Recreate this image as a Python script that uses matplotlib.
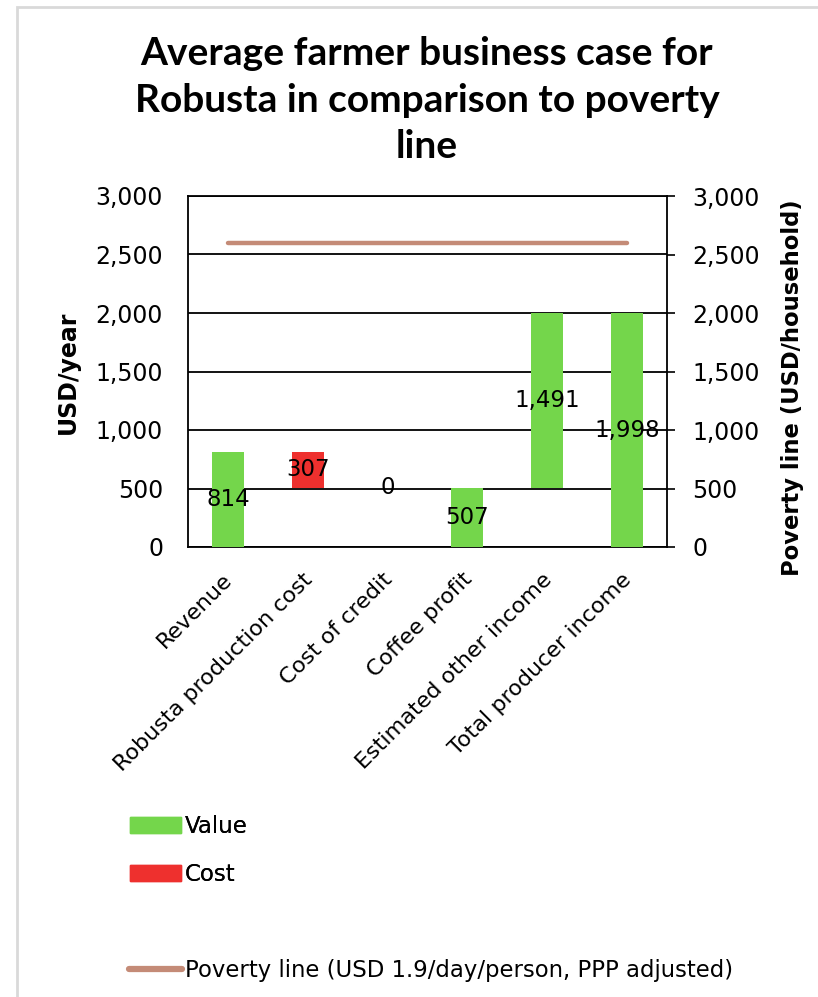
import matplotlib
matplotlib.use("Agg")
import matplotlib.pyplot as plt
import matplotlib.transforms as mtransforms
from matplotlib.patches import Patch, Rectangle
from matplotlib.lines import Line2D
from matplotlib.ticker import FuncFormatter, MultipleLocator

plt.rcParams['font.family'] = ['DejaVu Sans']

# Data
categories = ["Revenue", "Robusta production cost", "Cost of credit",
              "Coffee profit", "Estimated other income", "Total producer income"]
amounts = [814, 307, 0, 507, 1491, 1998]
kinds = ["value", "cost", "cost", "total", "value", "total"]
poverty_line = 2600

GREEN = "#74D64B"
RED = "#EE302E"
POVERTY = "#C48B77"

# Waterfall bases from a running total
bases = []
running = 0
for amt, kind in zip(amounts, kinds):
    if kind == "value":
        bases.append(running)
        running += amt
    elif kind == "cost":
        running -= amt
        bases.append(running)
    else:
        bases.append(0)

colors = [RED if k == "cost" else GREEN for k in kinds]

W, H = 818, 997
fig = plt.figure(figsize=(W / 100, H / 100), dpi=100)

# Light frame around the chart area
fig.patches.append(Rectangle((17 / W, -0.05), 1.2, 1 - 7 / H + 0.05,
                             transform=fig.transFigure, fill=False,
                             edgecolor="#D9D9D9", linewidth=2))

ax = fig.add_axes([188 / W, 1 - 547 / H, (667 - 188) / W, (547 - 196) / H])
x = list(range(len(categories)))
ax.bar(x, amounts, bottom=bases, width=0.4, color=colors, zorder=3)

for xi, amt, b in zip(x, amounts, bases):
    ax.text(xi, b + amt / 2, f"{amt:,}", ha="center", va="center",
            fontsize=16.5, color="black", zorder=5)

ax.set_xlim(-0.5, len(categories) - 0.5)
ax.set_ylim(0, 3000)
ax.yaxis.set_major_locator(MultipleLocator(500))
fmt = FuncFormatter(lambda v, p: f"{int(v):,}")
ax.yaxis.set_major_formatter(fmt)
ax.grid(axis="y", color="black", linewidth=1.3, zorder=1)
ax.tick_params(axis="y", length=0, pad=18, labelsize=17)
ax.tick_params(axis="x", length=0, pad=16)
ax.set_xticks(x)
ax.set_xticklabels(categories, rotation=45, ha="right", rotation_mode="anchor",
                   fontsize=16)
shift = mtransforms.ScaledTranslation(-4 / 72, 0, fig.dpi_scale_trans)
for lbl in ax.get_xticklabels():
    lbl.set_transform(lbl.get_transform() + shift)
for s in ax.spines.values():
    s.set_color("black")
    s.set_linewidth(1.3)

ax2 = ax.twinx()
ax2.set_ylim(0, 3000)
ax2.yaxis.set_major_locator(MultipleLocator(500))
ax2.yaxis.set_major_formatter(fmt)
ax2.tick_params(axis="y", length=6, width=1.2, pad=12, labelsize=17)
ax2.plot([x[0], x[-1]], [poverty_line, poverty_line], color=POVERTY,
         linewidth=3.2, solid_capstyle="round", zorder=4)
for s in ax2.spines.values():
    s.set_visible(False)

fig.text(68 / W, 1 - 372 / H, "USD/year", rotation=90, ha="center", va="center",
         fontsize=17, fontweight="bold")
fig.text(792 / W, 1 - 388 / H, "Poverty line (USD/household)", rotation=90,
         ha="center", va="center", fontsize=16.3, fontweight="bold")

fig.text(427 / W, 1 - 36 / H,
         "Average farmer business case for\nRobusta in comparison to poverty\nline",
         ha="center", va="top", fontsize=28, fontweight="bold",
         linespacing=1.4, family=["Lato", "DejaVu Sans"])

# Legends
leg1 = fig.legend(handles=[Patch(color=GREEN, label="Value"),
                           Patch(color=RED, label="Cost")],
                  loc="upper left", bbox_to_anchor=(121 / W, 1 - 806 / H),
                  frameon=False, fontsize=16.5, handlelength=2.2,
                  handleheight=0.7, handletextpad=0.2, labelspacing=1.08,
                  borderaxespad=0)
leg2 = fig.legend(handles=[Line2D([0], [0], color=POVERTY, linewidth=4.5,
                                  solid_capstyle="round",
                                  label="Poverty line (USD 1.9/day/person, PPP adjusted)")],
                  loc="upper left", bbox_to_anchor=(120 / W, 1 - 950 / H),
                  frameon=False, fontsize=16.4, handlelength=2.3,
                  handletextpad=0.15, borderaxespad=0)
fig.add_artist(leg1)

fig.savefig("out.png", dpi=100)
